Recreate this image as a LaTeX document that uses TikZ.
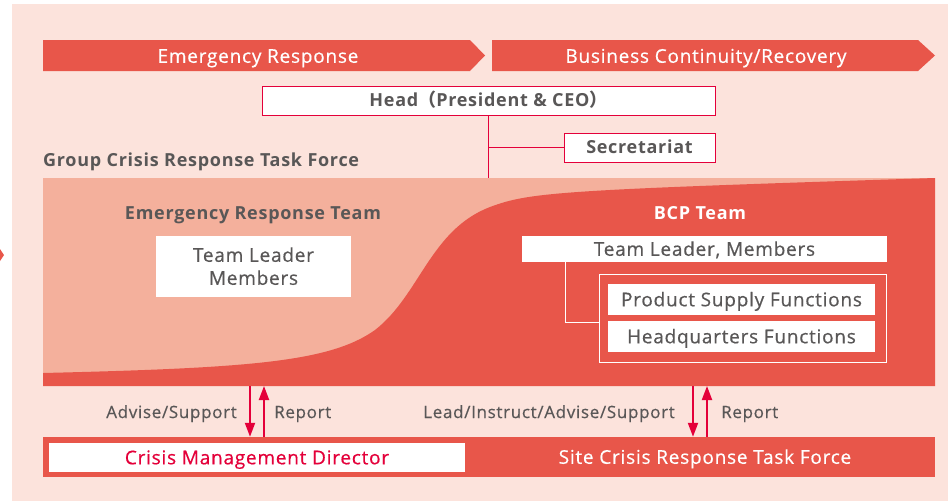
\documentclass[tikz,border=0pt]{standalone}
\usepackage{fontspec}
\setmainfont{Open Sans}[LetterSpace=4,UprightFeatures={FakeBold=0.5}]
\newfontfamily\cjk{Noto Sans CJK JP}
\usetikzlibrary{arrows.meta,calc}
\definecolor{paper}{HTML}{FCE3DC}
\definecolor{salmon}{HTML}{F4B09C}
\definecolor{bcpred}{HTML}{E8564A}
\definecolor{crimson}{HTML}{E4003A}
\definecolor{ink}{HTML}{595757}

\begin{document}
\begin{tikzpicture}[
  x=1pt,y=-1pt,font=\fontsize{19}{23}\selectfont,
  every node/.style={text height=13.6pt,text depth=0pt},
  phase/.style={fill=bcpred,draw=none},
  phasetext/.style={text=white,inner sep=0pt},
  whitebox/.style={fill=white,text=ink,inner sep=0pt,align=center},
  headbox/.style={whitebox,draw=crimson,line width=1pt,text height=12.9pt,
    font=\fontsize{18}{22}\selectfont\bfseries},
  title/.style={text=ink,font=\fontsize{18}{22}\selectfont\bfseries,text height=12.9pt,inner sep=0pt},
  flow/.style={draw=crimson,line width=2pt,-{Triangle[length=14pt,width=10pt]}},
  label/.style={text=ink,font=\fontsize{17}{20}\selectfont,text height=12.1pt,inner sep=0pt}
]
\path[use as bounding box] (0,0) rectangle (948,501);
\fill[paper] (12,4) rectangle (948,501);
\fill[bcpred] (0,249) -- (4,255) -- (0,261) -- cycle;

% phases
\path[phase] (43,40) -- (470,40) -- (485,55.5) -- (470,71) -- (43,71) -- cycle;
\path[phase] (492,40) -- (918,40) -- (935,55.5) -- (918,71) -- (492,71) -- cycle;
\node[phasetext] (er) at (258,56) {Emergency Response};
\node[phasetext] (bc) at (706,56) {Business Continuity/Recovery};

% head
\node[headbox,minimum width=453pt,minimum height=29pt] (head) at (488.5,100.5)
  {Head{\cjk （}President \& CEO{\cjk ）}};
\node[headbox,minimum width=151pt,minimum height=29pt] (sec) at (639.5,147.5)
  {Secretariat};
\node[title,anchor=west] (gcrtf) at (43,160.5) {Group Crisis Response Task Force};

% task force band
\node[fill=salmon,minimum width=892pt,minimum height=208pt,inner sep=0pt] (band) at (489,282) {};
\fill[bcpred] (43,373) .. controls (250,368) and (330,362) .. (375,330)
  .. controls (420,295) and (430,230) .. (490,207)
  .. controls (530,192) and (560,190) .. (935,178)
  -- (935,386) -- (43,386) -- cycle;
\draw[crimson,line width=1pt] (head.south) -- (head.south |- band.north);
\draw[crimson,line width=1pt] (sec.west) -- (sec.west -| head.south);

\node[title] (ert) at (253,213) {Emergency Response Team};
\node[whitebox,text height=36.6pt,minimum width=195pt,minimum height=61pt] (ertbox) at (253.5,266.5)
  {Team Leader\\Members};
\node[title,text=white] (bcp) at (700,213) {BCP Team};
\node[whitebox,minimum width=365pt,minimum height=26pt] (bcplead) at (704.5,249)
  {Team Leader, Members};
\node[draw=white,line width=1pt,minimum width=287pt,minimum height=88pt] (funcs) at (742.5,318) {};
\node[whitebox,minimum width=267pt,minimum height=31pt] (supply) at (741.5,299.5)
  {Product Supply Functions};
\node[whitebox,minimum width=267pt,minimum height=31pt] (hq) at (741.5,336.5)
  {Headquarters Functions};
\draw[white,line width=1pt] ([xshift=44pt]bcplead.south west) |- ([yshift=-4pt]funcs.west);

% site level
\node[fill=bcpred,minimum width=892pt,minimum height=40pt,inner sep=0pt] (sitebar) at (489,457) {};
\node[whitebox,text=crimson,minimum width=416pt,minimum height=29pt] (cmd) at (257,457.5)
  {Crisis Management Director};
\node[phasetext] (site) at (705,457) {Site Crisis Response Task Force};

\coordinate (lft) at (257,386);
\coordinate (rgt) at (700,386);
\draw[flow] ([xshift=-7pt]lft) -- ([xshift=-7pt]lft |- sitebar.north);
\draw[flow] ([xshift=7pt]lft |- sitebar.north) -- ([xshift=7pt]lft);
\draw[flow] ([xshift=-7pt]rgt) -- ([xshift=-7pt]rgt |- sitebar.north);
\draw[flow] ([xshift=7pt]rgt |- sitebar.north) -- ([xshift=7pt]rgt);
\node[label,anchor=east] (adv) at (237,412) {Advise/Support};
\node[label,anchor=west] (rep1) at (274,412) {Report};
\node[label,anchor=east] (lead) at (675,412) {Lead/Instruct/Advise/Support};
\node[label,anchor=west] (rep2) at (721,412) {Report};
\end{tikzpicture}
\end{document}
